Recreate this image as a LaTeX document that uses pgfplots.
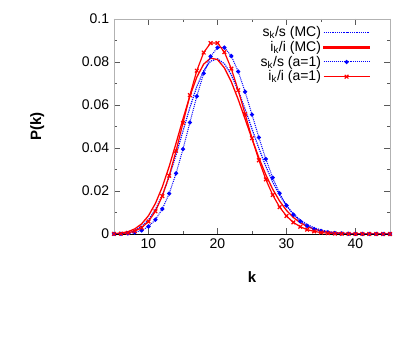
\documentclass[border=0pt]{standalone}
\usepackage{fontspec}
\setmainfont{Liberation Sans}
\usepackage{pgfplots}
\pgfplotsset{compat=1.18}

\begin{document}
\fontsize{14bp}{16bp}\selectfont
\begin{tikzpicture}
\useasboundingbox (-114bp,-114bp) rectangle (301bp,234bp);
\begin{axis}[
  at={(0,0)}, anchor=south west,
  scale only axis,
  width=276bp, height=215bp,
  xmin=5, xmax=45,
  ymin=0, ymax=0.1,
  xtick={10,20,30,40},
  minor xtick={5,15,25,35,45},
  ytick={0,0.02,0.04,0.06,0.08,0.1},
  minor ytick={0.01,0.03,0.05,0.07,0.09},
  yticklabels={0,0.02,0.04,0.06,0.08,0.1},
  tick align=inside,
  major tick length=6bp,
  minor tick length=3bp,
  tick style={gray!70!black, line width=0.6pt},
  axis line style={gray!60, line width=0.8pt},
  /pgf/number format/assume math mode=true,
  tick label style={font=\fontsize{14bp}{16bp}\selectfont},
  xlabel={\textbf{k}},
  ylabel={\textbf{P(k)}},
  label style={font=\fontsize{15bp}{17bp}\selectfont},
  xlabel style={yshift=-13bp},
  ylabel style={yshift=28bp},
  legend style={draw=none, fill=none, at={(0.94,0.985)}, anchor=north east,
    font=\fontsize{14bp}{16bp}\selectfont, row sep=-1.5bp,
    cells={anchor=east}},
  legend cell align=right,
  legend plot pos=right,
  legend image code/.code={\draw[mark repeat=2,mark phase=2,#1] plot coordinates {(0bp,0bp) (23bp,0bp) (46bp,0bp)};},
]
% s_k/s (MC)
\addplot[blue, densely dotted, line width=1.2pt] coordinates {
 (5,0.00009) (6,0.00028) (7,0.000735) (8,0.0017) (9,0.00352) (10,0.0066)
 (11,0.01136) (12,0.01805) (13,0.02666) (14,0.03686) (15,0.04792) (16,0.05885)
 (17,0.06855) (18,0.07599) (19,0.08042) (20,0.08146) (21,0.07919) (22,0.07404)
 (23,0.06672) (24,0.05805) (25,0.04885) (26,0.03982) (27,0.03149) (28,0.02419)
 (29,0.01808) (30,0.01315) (31,0.00933) (32,0.00646) (33,0.00437) (34,0.00289)
 (35,0.00187) (36,0.00118) (37,0.00073) (38,0.00045) (39,0.00027) (40,0.00016)
 (41,0.00009) (42,0.00005) (43,0.00003) (44,0.00002) (45,0.00001)
};
\addlegendentry{s\textsubscript{k}/s (MC)}
% i_k/i (MC)
\addplot[color=red, solid, line width=1.3pt,
  legend image code/.code={\fill[red] (0bp,-0.65bp) rectangle (46bp,0.65bp);}] coordinates {
 (5,0.000143) (6,0.000417) (7,0.001052) (8,0.002345) (9,0.00469) (10,0.00852)
 (11,0.01420) (12,0.02189) (13,0.03143) (14,0.04228) (15,0.05355) (16,0.06415)
 (17,0.07295) (18,0.07903) (19,0.0818) (20,0.08112) (21,0.07726) (22,0.07082)
 (23,0.06261) (24,0.05348) (25,0.04421) (26,0.03542) (27,0.02755) (28,0.02083)
 (29,0.01532) (30,0.01098) (31,0.00767) (32,0.00524) (33,0.00349) (34,0.00228)
 (35,0.00145) (36,0.000907) (37,0.000556) (38,0.000334) (39,0.000197) (40,0.000114)
 (41,0.000065) (42,0.000036) (43,0.00002) (44,0.00001) (45,0.000006)
};
\addlegendentry{i\textsubscript{k}/i (MC)}
% s_k/s (a=1)
\addplot[blue, densely dotted, line width=1pt, mark=*, mark size=1.6pt, mark options={solid}] coordinates {
 (5,0.000026) (6,0.00009) (7,0.000271) (8,0.000711) (9,0.00166) (10,0.003486)
 (11,0.006654) (12,0.011645) (13,0.018811) (14,0.028216) (15,0.039502) (16,0.051847)
 (17,0.064046) (18,0.07472) (19,0.082585) (20,0.086714) (21,0.086714) (22,0.082772)
 (23,0.075575) (24,0.066128) (25,0.055548) (26,0.044866) (27,0.034896) (28,0.026172)
 (29,0.018952) (30,0.013266) (31,0.008987) (32,0.005898) (33,0.003753) (34,0.002318)
 (35,0.001391) (36,0.000811) (37,0.00046) (38,0.000254) (39,0.000137) (40,0.000072)
 (41,0.000037) (42,0.000018) (43,0.000009) (44,0.000004) (45,0.000002)
};
\addlegendentry{s\textsubscript{k}/s (a=1)}
% i_k/i (a=1)
\addplot[red, line width=1.2pt, mark=x, mark size=2.6pt, mark options={solid}] coordinates {
 (5,0.000055) (6,0.000183) (7,0.000523) (8,0.001309) (9,0.002908) (10,0.005816)
 (11,0.010575) (12,0.017625) (13,0.027116) (14,0.038737) (15,0.051649) (16,0.064561)
 (17,0.075954) (18,0.084394) (19,0.088835) (20,0.088835) (21,0.084605) (22,0.076914)
 (23,0.066882) (24,0.055735) (25,0.044588) (26,0.034298) (27,0.025406) (28,0.018147)
 (29,0.012515) (30,0.008344) (31,0.005383) (32,0.003364) (33,0.002039) (34,0.001199)
 (35,0.000685) (36,0.000381) (37,0.000206) (38,0.000108) (39,0.000055) (40,0.000028)
 (41,0.000014) (42,0.000007) (43,0.000003) (44,0.000001) (45,0.000001)
};
\addlegendentry{i\textsubscript{k}/i (a=1)}
\draw[black, line width=0.8pt] (axis cs:5,0) -- (axis cs:45,0);
\end{axis}
\end{tikzpicture}
\end{document}
